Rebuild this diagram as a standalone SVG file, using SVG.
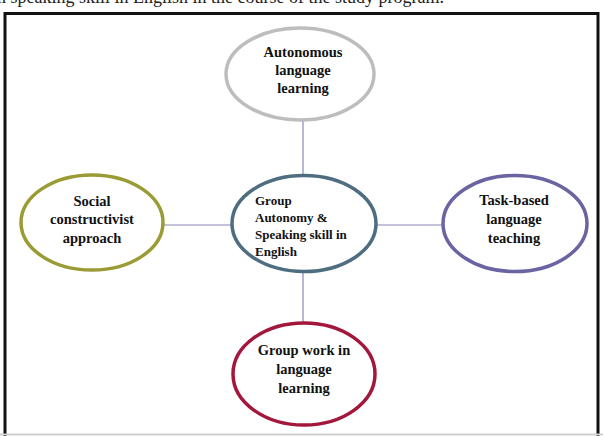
<svg xmlns="http://www.w3.org/2000/svg" width="603" height="436" viewBox="0 0 603 436">
<style>
.t{font-family:"Liberation Serif","Times New Roman",serif;font-weight:bold;fill:#111;text-anchor:middle;font-size:14.5px}
.c{font-family:"Liberation Serif","Times New Roman",serif;font-weight:bold;fill:#111;font-size:13px}
.cap{font-family:"Liberation Serif","Times New Roman",serif;fill:#222;font-size:18px}
.n{fill:#fff;stroke-width:3.5}
.e{stroke:#8a86b8;stroke-width:1.2;fill:none}
</style>
<rect width="603" height="436" fill="#fff"/>
<text class="cap" x="-3" y="3">n speaking skill in English in the course of the study program.</text>
<rect x="5" y="13.5" width="593" height="430" fill="none" stroke="#111" stroke-width="3"/>
<line x1="0" y1="434.5" x2="603" y2="434.5" stroke="#d0d0d0" stroke-width="2"/>
<g id="connectors">
<line class="e" x1="303" y1="120" x2="303" y2="176"/>
<line class="e" x1="303" y1="271" x2="303" y2="324"/>
<line class="e" x1="163" y1="225" x2="233" y2="225"/>
<line class="e" x1="376" y1="225" x2="444" y2="225"/>
</g>
<g id="n-autonomous">
<ellipse class="n" cx="300" cy="74" rx="74" ry="46" stroke="#bdbdbd"/>
<text class="t" x="303" y="57">Autonomous</text>
<text class="t" x="303" y="75">language</text>
<text class="t" x="303" y="93">learning</text>
</g>
<g id="n-center">
<ellipse class="n" cx="304" cy="223.5" rx="72" ry="48" stroke="#4e6d80"/>
<text class="c" x="255" y="205">Group</text>
<text class="c" x="255" y="222">Autonomy &amp;</text>
<text class="c" x="255" y="239">Speaking skill in</text>
<text class="c" x="255" y="256">English</text>
</g>
<g id="n-social">
<ellipse class="n" cx="92" cy="222.5" rx="71" ry="47.5" stroke="#9b9b35"/>
<text class="t" x="92" y="206">Social</text>
<text class="t" x="92" y="224">constructivist</text>
<text class="t" x="92" y="243">approach</text>
</g>
<g id="n-task">
<ellipse class="n" cx="515" cy="223.5" rx="72" ry="48" stroke="#6a64a2"/>
<text class="t" x="514" y="205">Task-based</text>
<text class="t" x="514" y="224">language</text>
<text class="t" x="514" y="243">teaching</text>
</g>
<g id="n-groupwork">
<ellipse class="n" cx="304" cy="374" rx="71" ry="51" stroke="#a3173c"/>
<text class="t" x="304" y="355">Group work in</text>
<text class="t" x="304" y="374">language</text>
<text class="t" x="304" y="393">learning</text>
</g>
</svg>
